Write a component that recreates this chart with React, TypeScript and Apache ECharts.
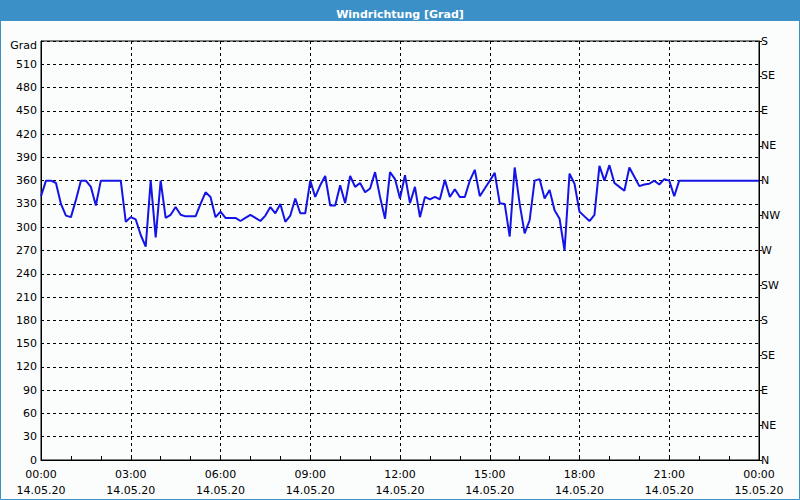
import React, { useEffect, useRef } from "react";
import * as echarts from "echarts";

const titleText = "Windrichtung [Grad]";
const yUnit = "Grad";
const startDate = "14.05.20";
const endDate = "15.05.20";
// minutes after 00:00 at 10-minute steps
const stepMinutes = 10;
const directionValues: number[] = [
  340, 360, 360, 357, 330, 315, 313, 335, 360, 360,
  352, 328, 360, 360, 360, 360, 360, 307, 313, 310,
  290, 275, 360, 287, 360, 312, 316, 326, 316, 314,
  314, 314, 330, 345, 339, 313, 320, 312, 312, 312,
  308, 312, 316, 312, 308, 315, 326, 318, 330, 307,
  315, 337, 318, 318, 360, 339, 354, 366, 328, 328,
  354, 331, 366, 352, 357, 345, 350, 371, 339, 311,
  371, 362, 337, 367, 331, 352, 313, 339, 336, 339,
  336, 361, 339, 349, 339, 339, 360, 374, 340, 350,
  360, 370, 331, 330, 288, 377, 330, 292, 309, 360,
  362, 337, 348, 322, 311, 270, 369, 356, 320, 314,
  308, 316, 379, 360, 380, 357, 352, 347, 377, 365,
  353, 355, 356, 360, 355, 362, 360, 340, 360, 360,
  360, 360, 360, 360, 360, 360, 360, 360, 360, 360,
  360, 360, 360, 360, 360,
];
const compassLabels: Record<number, string> = {
  0: "N", 45: "NE", 90: "E", 135: "SE", 180: "S", 225: "SW",
  270: "W", 315: "NW", 360: "N", 405: "NE", 450: "E", 495: "SE", 540: "S",
};

const pad = (n: number) => (n < 10 ? "0" + n : "" + n);

export default function App() {
  const ref = useRef<HTMLDivElement>(null);
  useEffect(() => {
    if (!ref.current) return;
    const chart = echarts.init(ref.current, undefined, { renderer: "svg" });
    const data = directionValues.map((v, i) => [i * stepMinutes, v]);
    const font = "DejaVu Sans";
    chart.setOption({
      animation: false,
      backgroundColor: "#fbfdfd",
      textStyle: { fontFamily: font },
      graphic: [
        { type: "rect", shape: { x: 0, y: 0, width: 800, height: 21 }, style: { fill: "#3c90c8" }, z: 0 },
        { type: "rect", shape: { x: 0.5, y: 0.5, width: 799, height: 499 }, style: { fill: "none", stroke: "#3c90c8", lineWidth: 1 }, z: 0 },
      ],
      title: {
        text: titleText,
        left: "center",
        top: 4,
        textStyle: { color: "#ffffff", fontSize: 11, fontWeight: "bold", fontFamily: font },
      },
      grid: { left: 41, right: 41, top: 41, bottom: 40, show: true, borderColor: "#000", borderWidth: 1, backgroundColor: "transparent" },
      xAxis: {
        type: "value",
        min: 0,
        max: 1440,
        interval: 180,
        axisLine: { lineStyle: { color: "#000", width: 1 } },
        axisTick: { show: true, inside: true, length: 4, lineStyle: { color: "#000" } },
        minorTick: { show: true, splitNumber: 3, length: 4, lineStyle: { color: "#000" } },
        splitLine: { show: true, lineStyle: { color: "#000", type: [3, 3], width: 1 } },
        axisLabel: {
          color: "#000",
          fontSize: 11,
          lineHeight: 16,
          margin: 6,
          fontFamily: font,
          formatter: (v: number) => {
            const h = Math.floor(v / 60) % 24;
            const m = v % 60;
            return pad(h) + ":" + pad(m) + "\n" + (v >= 1440 ? endDate : startDate);
          },
        },
      },
      yAxis: [
        {
          type: "value",
          min: 0,
          max: 540,
          interval: 30,
          axisLine: { show: true, lineStyle: { color: "#000" } },
          axisTick: { show: false },
          splitLine: { show: true, lineStyle: { color: "#000", type: [3, 3], width: 1 } },
          axisLabel: {
            color: "#000",
            fontSize: 11,
            margin: 4,
            fontFamily: font,
            formatter: (v: number) => (v === 540 ? "{u|" + yUnit + "}" : String(v)),
            rich: { u: { color: "#000", fontSize: 11, fontFamily: font, padding: [9, 0, 0, 0] } },
          },
        },
        {
          type: "value",
          position: "right",
          min: 0,
          max: 540,
          interval: 45,
          axisLine: { show: true, lineStyle: { color: "#000" } },
          axisTick: { show: true, length: 3, lineStyle: { color: "#000" } },
          splitLine: { show: false },
          axisLabel: {
            color: "#000",
            fontSize: 11,
            margin: 2,
            fontFamily: font,
            formatter: (v: number) => compassLabels[v] ?? "",
          },
        },
      ],
      series: [
        {
          type: "line",
          data,
          showSymbol: false,
          lineStyle: { color: "#1414e6", width: 2 },
          yAxisIndex: 0,
        },
      ],
    });
    return () => chart.dispose();
  }, []);
  return <div ref={ref} style={{ position: "fixed", left: 0, top: 0, width: 800, height: 500 }} />;
}
